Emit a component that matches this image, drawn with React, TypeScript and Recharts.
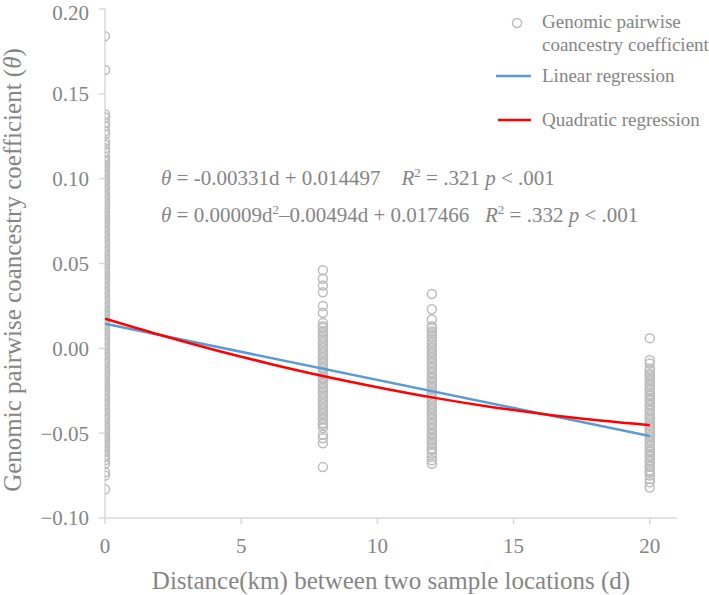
import { ScatterChart, Scatter, XAxis, YAxis } from 'recharts'

const xTicks = [0, 5, 10, 15, 20]
const yTicks = [-0.1, -0.05, 0, 0.05, 0.1, 0.15, 0.2]

// coancestry values (columns are packed solid)
const at0 = [
  0.184, 0.164, 0.138, 0.136, 0.133, 0.131, 0.128, 0.126, 0.122, 0.12, 0.118, 0.116, 0.113, 0.111,
  0.11, 0.108, 0.107, 0.105, 0.104, 0.102, 0.101, 0.099, 0.098, 0.096, 0.095, 0.093, 0.092, 0.09,
  0.089, 0.087, 0.086, 0.084, 0.083, 0.081, 0.08, 0.078, 0.077, 0.075, 0.074, 0.072, 0.071, 0.069,
  0.068, 0.066, 0.065, 0.063, 0.062, 0.06, 0.059, 0.057, 0.056, 0.054, 0.053, 0.051, 0.05, 0.048,
  0.047, 0.045, 0.044, 0.042, 0.041, 0.039, 0.038, 0.036, 0.035, 0.033, 0.032, 0.03, 0.029, 0.027,
  0.026, 0.024, 0.023, 0.021, 0.02, 0.018, 0.017, 0.015, 0.014, 0.012, 0.011, 0.009, 0.008, 0.006,
  0.005, 0.003, 0.002, 0, -0.001, -0.003, -0.004, -0.006, -0.007, -0.009, -0.01, -0.012, -0.013,
  -0.015, -0.016, -0.018, -0.019, -0.021, -0.022, -0.024, -0.025, -0.027, -0.028, -0.03, -0.031,
  -0.033, -0.034, -0.036, -0.037, -0.039, -0.04, -0.042, -0.043, -0.045, -0.046, -0.048, -0.049,
  -0.051, -0.052, -0.054, -0.055, -0.057, -0.058, -0.06, -0.061, -0.063, -0.064, -0.066, -0.068,
  -0.073, -0.075, -0.083,
]
const at8 = [
  0.046, 0.041, 0.037, 0.033, 0.025, 0.021, 0.015, 0.013, 0.012, 0.01, 0.009, 0.007, 0.006, 0.004,
  0.003, 0.001, 0, -0.002, -0.003, -0.005, -0.006, -0.008, -0.009, -0.011, -0.012, -0.014, -0.015,
  -0.017, -0.018, -0.02, -0.021, -0.023, -0.024, -0.026, -0.027, -0.029, -0.03, -0.032, -0.033,
  -0.035, -0.036, -0.038, -0.039, -0.041, -0.042, -0.044, -0.045, -0.047, -0.051, -0.053, -0.056,
  -0.07,
]
const at12 = [
  0.032, 0.023, 0.017, 0.013, 0.012, 0.01, 0.009, 0.007, 0.006, 0.004, 0.003, 0.001, 0, -0.002,
  -0.003, -0.005, -0.006, -0.008, -0.009, -0.011, -0.012, -0.014, -0.015, -0.017, -0.018, -0.02,
  -0.021, -0.023, -0.024, -0.026, -0.027, -0.029, -0.03, -0.032, -0.033, -0.035, -0.036, -0.038,
  -0.039, -0.041, -0.042, -0.044, -0.045, -0.047, -0.048, -0.05, -0.051, -0.053, -0.054, -0.056,
  -0.057, -0.059, -0.06, -0.062, -0.064, -0.066, -0.068,
]
const at20 = [
  0.006, -0.007, -0.009, -0.012, -0.013, -0.015, -0.016, -0.018, -0.019, -0.021, -0.022, -0.024,
  -0.025, -0.027, -0.028, -0.03, -0.031, -0.033, -0.034, -0.036, -0.037, -0.039, -0.04, -0.042,
  -0.043, -0.045, -0.046, -0.048, -0.049, -0.051, -0.052, -0.054, -0.055, -0.057, -0.058, -0.06,
  -0.061, -0.063, -0.064, -0.066, -0.067, -0.069, -0.07, -0.072, -0.073, -0.075, -0.077, -0.079,
  -0.082,
]

// regression fits
const linearD = [0, 20]
const linearTheta = [0.0145, -0.0517]
const quadD = [0, 2, 4, 6, 8, 10, 12, 14, 16, 18, 20]
const quadTheta = [0.0175, 0.008, -0.0008, -0.0089, -0.0163, -0.0229, -0.0289, -0.0341, -0.0385, -0.0423, -0.0453]

const points = [
  ...at0.map(t => ({ d: 0, t })),
  ...at8.map(t => ({ d: 8, t })),
  ...at12.map(t => ({ d: 12, t })),
  ...at20.map(t => ({ d: 20, t })),
]
const linearPts = linearD.map((d, i) => ({ d, t: linearTheta[i] }))
const quadPts = quadD.map((d, i) => ({ d, t: quadTheta[i] }))

const FONT = '"Liberation Serif", "Times New Roman", serif'
const TEXT = '#858585'
const AXIS = '#d9d9d9'
const RING = '#bcbcbc'

const Ring = (props: any) => (
  <circle cx={props.cx} cy={props.cy} r={4.5} fill="none" stroke={RING} strokeWidth={1.5} />
)
const NoDot = () => <g />

const XTitle = () => (
  <text x={391} y={580} textAnchor="middle" dominantBaseline="central" fill={TEXT} fontSize={25} fontFamily={FONT}>
    Distance(km) between two sample locations (d)
  </text>
)

const YTitle = () => (
  <text
    x={12}
    y={270}
    transform="rotate(-90 12 270)"
    textAnchor="middle"
    dominantBaseline="central"
    fill={TEXT}
    fontSize={25}
    fontFamily={FONT}
  >
    Genomic pairwise coancestry coefficient (<tspan fontStyle="italic">θ</tspan>)
  </text>
)

const fmtY = (v: number) => (v < 0 ? '\u2212' : '') + Math.abs(v).toFixed(2)

function LegendBox() {
  const row = { position: 'absolute' as const, left: 542, fontSize: 19, lineHeight: '23px', whiteSpace: 'nowrap' as const }
  return (
    <>
      <svg width={709} height={140} style={{ position: 'absolute', left: 0, top: 0 }}>
        <circle cx={517} cy={23} r={4.5} fill="none" stroke={RING} strokeWidth={1.5} />
        <line x1={496} x2={531} y1={76} y2={76} stroke="#5b9bd5" strokeWidth={2.5} />
        <line x1={498} x2={531} y1={120} y2={120} stroke="#ff0000" strokeWidth={2.5} />
      </svg>
      <div style={{ ...row, top: 10 }}>
        Genomic pairwise
        <br />
        coancestry coefficient
      </div>
      <div style={{ ...row, top: 64 }}>Linear regression</div>
      <div style={{ ...row, top: 108 }}>Quadratic regression</div>
    </>
  )
}

function Equations() {
  const line = { position: 'absolute' as const, left: 161, fontSize: 21, lineHeight: '24px', whiteSpace: 'pre' as const }
  const sup = { fontSize: 13, verticalAlign: 'super', lineHeight: 0 }
  return (
    <>
      <div style={{ ...line, top: 166 }}>
        <i>θ</i> = -0.00331d + 0.014497    <i>R</i>
        <span style={sup}>2</span> = .321 <i>p</i> &lt; .001
      </div>
      <div style={{ ...line, top: 203 }}>
        <i>θ</i> = 0.00009d<span style={sup}>2</span>–0.00494d + 0.017466   <i>R</i>
        <span style={sup}>2</span> = .332 <i>p</i> &lt; .001
      </div>
    </>
  )
}

export default function App() {
  return (
    <div style={{ position: 'absolute', left: 0, top: 0, width: 709, height: 595, background: '#fff', fontFamily: FONT, color: TEXT }}>
      <ScatterChart width={709} height={595} margin={{ top: 9, right: 32, bottom: 0, left: 0 }}>
        <XAxis
          type="number"
          dataKey="d"
          domain={[0, 21]}
          ticks={xTicks}
          allowDataOverflow
          height={77}
          tickSize={6}
          tickMargin={14}
          axisLine={{ stroke: AXIS, strokeWidth: 1.5 }}
          tickLine={{ stroke: AXIS, strokeWidth: 1.5 }}
          tick={{ fill: TEXT, fontSize: 21, fontFamily: FONT }}
          label={<XTitle />}
        />
        <YAxis
          type="number"
          dataKey="t"
          domain={[-0.1, 0.2]}
          ticks={yTicks}
          allowDataOverflow
          width={105}
          tickSize={6}
          tickMargin={10}
          tickFormatter={fmtY}
          axisLine={{ stroke: AXIS, strokeWidth: 1.5 }}
          tickLine={{ stroke: AXIS, strokeWidth: 1.5 }}
          tick={{ fill: TEXT, fontSize: 21, fontFamily: FONT }}
          label={<YTitle />}
        />
        <Scatter data={points} shape={Ring} isAnimationActive={false} />
        <Scatter
          data={linearPts}
          shape={NoDot}
          line={{ stroke: '#5b9bd5', strokeWidth: 2.5 }}
          isAnimationActive={false}
        />
        <Scatter
          data={quadPts}
          shape={NoDot}
          line={{ stroke: '#ff0000', strokeWidth: 2.5 }}
          lineJointType="monotoneX"
          isAnimationActive={false}
        />
      </ScatterChart>
      <LegendBox />
      <Equations />
    </div>
  )
}
